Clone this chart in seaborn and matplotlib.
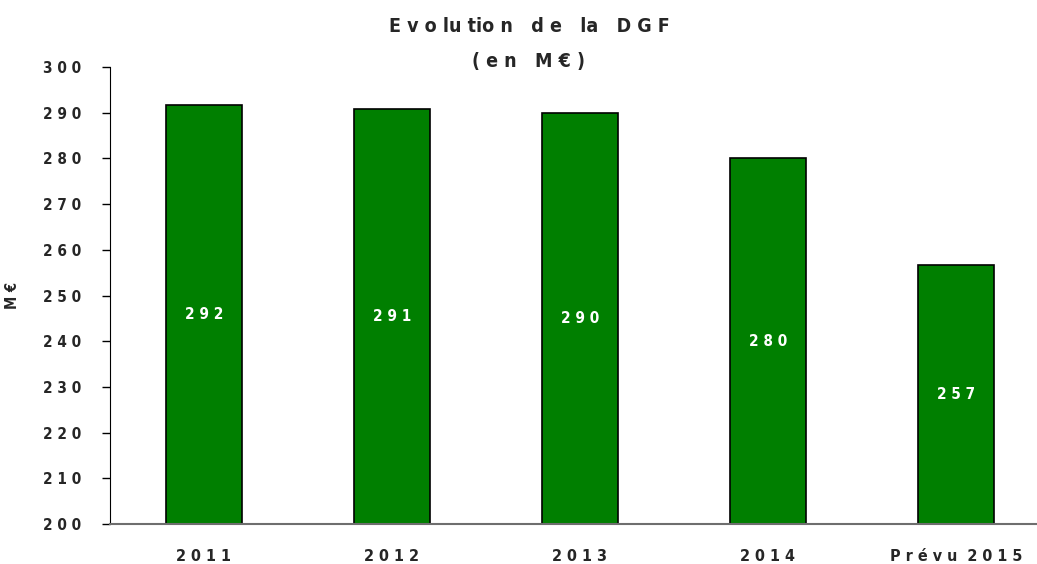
import numpy as np
import pandas as pd
import seaborn as sns
import matplotlib.pyplot as plt
from matplotlib import font_manager

# data
years = ['2011', '2012', '2013', '2014', 'Prévu 2015']
dgf = [291.6, 290.8, 289.9, 280.0, 256.6]
dgf_labels = ['292', '291', '290', '280', '257']
yticks = list(range(200, 301, 10))


def spaced(s):
    # the original chart uses wide letter spacing
    return ' '.join(s).replace('   ', '  ')


# look for a narrow face, the reference looks like Arial Narrow bold
names = {(f.name, f.stretch) for f in font_manager.fontManager.ttflist}
family, stretch = 'Liberation Sans', 'normal'
if any(n == 'Liberation Sans Narrow' for n, _ in names):
    family = 'Liberation Sans Narrow'
elif ('DejaVu Sans', 'condensed') in names or ('DejaVu Sans', 'semi-condensed') in names:
    family, stretch = 'DejaVu Sans', 'condensed'

sns.set_style('white')
plt.rcParams['font.family'] = [family, 'DejaVu Sans']
plt.rcParams['font.stretch'] = stretch
plt.rcParams['font.weight'] = 'bold'

df = pd.DataFrame({'annee': years, 'dgf': dgf})

fig = plt.figure(figsize=(10.37, 5.64), dpi=100)
ax = fig.add_axes([110 / 1037, 40 / 564, 940 / 1037, 457 / 564])

sns.barplot(data=df, x='annee', y='dgf', color='#007f00', saturation=1,
            width=0.4, edgecolor='black', linewidth=1.2, ax=ax)

ax.bar_label(ax.containers[0], labels=[spaced(l) for l in dgf_labels],
             label_type='center', color='white', fontsize=11, fontweight='bold')

ax.set_ylim(200, 300)
ax.set_xlim(-0.5, 4.5)
ax.set_yticks(yticks)
ax.set_yticklabels([spaced(str(v)) for v in yticks], fontsize=11, fontweight='bold')
ax.set_xticks(range(len(years)))
ax.set_xticklabels([spaced(y) for y in years], fontsize=11.5, fontweight='bold')
ax.set_xticks(np.arange(-0.5, 4.6, 1), minor=True)
ax.tick_params(axis='x', which='major', length=0, pad=18)
ax.tick_params(axis='x', which='minor', length=6, width=1, color='#333333', direction='out')
ax.tick_params(axis='y', length=6, width=1, color='black', direction='out', left=True, pad=15)

for side in ['top', 'right']:
    ax.spines[side].set_visible(False)
ax.spines['left'].set_color('black')
ax.spines['bottom'].set_color('#6e6e6e')
ax.spines['bottom'].set_linewidth(1.5)

ax.set_xlabel('')
ax.set_ylabel(spaced('M€'), fontsize=10.5, fontweight='bold', labelpad=16)

fig.text(529 / 1037, 1 - 27 / 564, 'E v o lu tio n   d e   la   D G F',
         ha='center', va='center', fontsize=14, fontweight='bold')
fig.text(529 / 1037, 1 - 62 / 564, '( e n   M € )',
         ha='center', va='center', fontsize=14, fontweight='bold')

fig.savefig('out.png', dpi=100)
